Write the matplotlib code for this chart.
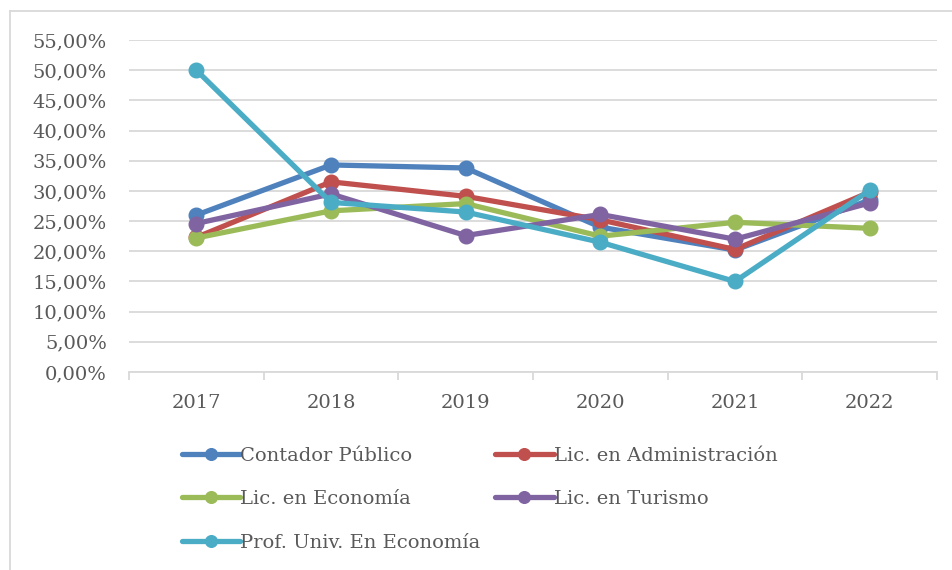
import matplotlib.pyplot as plt
from matplotlib.ticker import FuncFormatter, FixedLocator
from matplotlib.lines import Line2D

years = ["2017", "2018", "2019", "2020", "2021", "2022"]

contador = [26.0, 34.3, 33.8, 24.0, 20.2, 28.5]
administracion = [22.3, 31.5, 29.1, 25.2, 20.3, 29.8]
economia = [22.2, 26.7, 27.9, 22.5, 24.8, 23.8]
turismo = [24.6, 29.5, 22.6, 26.1, 22.0, 28.0]
prof_economia = [50.0, 28.1, 26.5, 21.5, 15.0, 30.1]

labels = ["Contador Público", "Lic. en Administración", "Lic. en Economía",
          "Lic. en Turismo", "Prof. Univ. En Economía"]
colors = ["#4f81bd", "#c0504d", "#9bbb59", "#8064a2", "#4bacc6"]

plt.rcParams['font.family'] = ['DejaVu Serif']
text_col = "#595959"
grid_col = "#d9d9d9"

fig = plt.figure(figsize=(9.53, 5.70), dpi=100)
ax = fig.add_axes([129 / 953, 1 - 372 / 570, (937 - 129) / 953, (372 - 40) / 570])

x = range(len(years))
series = [contador, administracion, economia, turismo, prof_economia]
for vals, lab, c in zip(series, labels, colors):
    ax.plot(x, [v / 100 for v in vals], color=c, lw=3.8, marker="o", ms=10.5,
            label=lab, solid_capstyle="round")

ax.set_xlim(-0.5, 5.5)
ax.set_ylim(0, 0.55)
ax.set_yticks([i * 0.05 for i in range(12)])
ax.yaxis.set_major_formatter(FuncFormatter(lambda v, p: f"{v * 100:.2f}%".replace(".", ",")))
ax.set_xticks(list(x))
ax.set_xticklabels(years)
ax.xaxis.set_minor_locator(FixedLocator([i - 0.5 for i in range(7)]))

ax.grid(axis="y", color=grid_col, lw=1.3)
ax.set_axisbelow(True)
for s in ["top", "right", "left"]:
    ax.spines[s].set_visible(False)
ax.spines["bottom"].set_color(grid_col)
ax.spines["bottom"].set_linewidth(1.3)

ax.tick_params(axis="y", length=0, pad=16, labelsize=14, labelcolor=text_col)
ax.tick_params(axis="x", which="major", length=0, pad=16, labelsize=14, labelcolor=text_col)
ax.tick_params(axis="x", which="minor", length=6, width=1.3, color=grid_col)

# legend, filled row by row like the original
handles, labs = ax.get_legend_handles_labels()
order = [0, 2, 4, 1, 3]
fig.legend([handles[i] for i in order], [labs[i] for i in order],
           loc="upper left", bbox_to_anchor=(182 / 953, 1 - 447 / 570),
           ncol=2, frameon=False, fontsize=14, labelcolor=text_col,
           handlelength=3.0, handletextpad=0.0, columnspacing=0.75,
           labelspacing=1.3, borderaxespad=0, borderpad=0, markerscale=0.8)

# outer chart border (only top and left visible in the crop)
fig.add_artist(Line2D([10 / 953, 1], [1 - 11 / 570, 1 - 11 / 570], color=grid_col, lw=1.3))
fig.add_artist(Line2D([10 / 953, 10 / 953], [0, 1 - 11 / 570], color=grid_col, lw=1.3))

fig.savefig("out.png", dpi=100)
